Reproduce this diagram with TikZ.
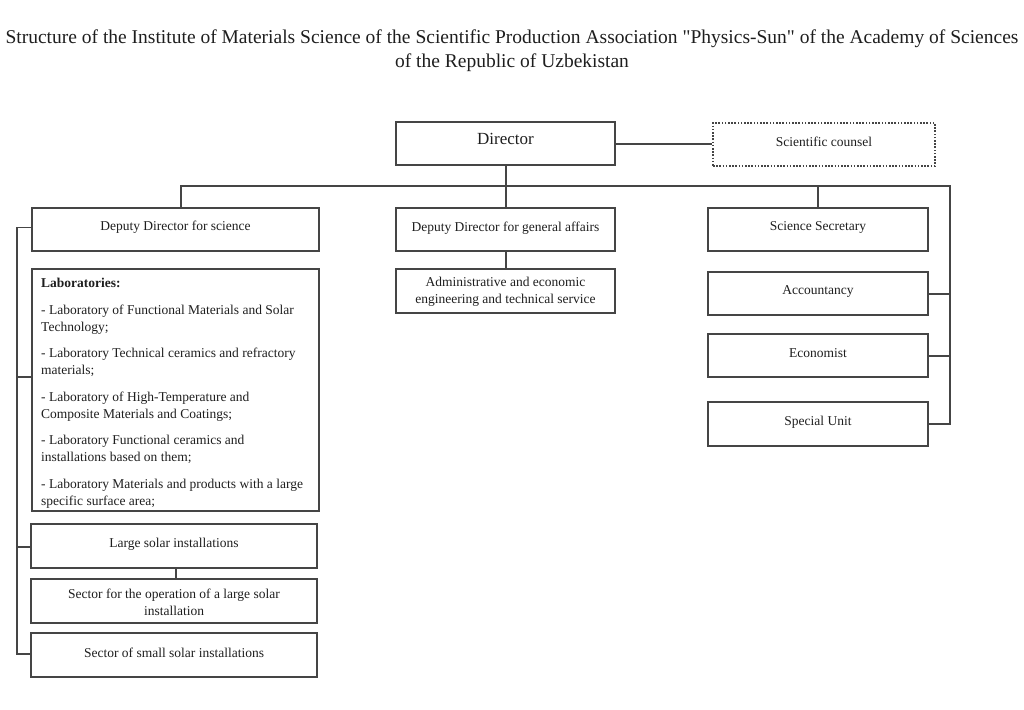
\documentclass[tikz,border=0pt]{standalone}
\usepackage{fontspec}
\setmainfont{Liberation Serif}
\definecolor{linec}{HTML}{454545}
\definecolor{textc}{HTML}{1E1E1E}
\begin{document}
\begin{tikzpicture}[x=1pt,y=-1pt]
\tikzset{
 box/.style={draw=linec, line width=1.3pt, rectangle, inner sep=0pt},
 dotbox/.style={box, line width=1.1pt, dash pattern=on 1.6pt off 1.6pt},
 conn/.style={draw=linec, line width=1.4pt},
 lbl/.style={font=\fontsize{13.5}{17}\selectfont, text=textc, align=center, inner sep=0pt},
}
\useasboundingbox (0,0) rectangle (1024,709);
% title
\node[font=\fontsize{19.5}{24}\selectfont, text=textc, align=center, inner sep=0pt] (title) at (512,51)
 {Structure of the Institute of Materials Science of the Scientific Production Association \textquotedbl Physics-Sun\textquotedbl{} of the Academy of Sciences\\of the Republic of Uzbekistan};
% boxes
\node[box, minimum width=219pt, minimum height=43pt] (dir) at (505.5,143.5) {};
\node[dotbox, minimum width=222pt, minimum height=43pt] (sci) at (824,144.5) {};
\node[box, minimum width=287pt, minimum height=43pt] (dds) at (175.5,229.5) {};
\node[box, minimum width=219pt, minimum height=43pt] (ddg) at (505.5,229.5) {};
\node[box, minimum width=220pt, minimum height=43pt] (ss) at (818,229.5) {};
\node[box, minimum width=219pt, minimum height=44pt] (adm) at (505.5,291) {};
\node[box, minimum width=220pt, minimum height=43pt] (acc) at (818,293.5) {};
\node[box, minimum width=220pt, minimum height=43pt] (eco) at (818,355.5) {};
\node[box, minimum width=220pt, minimum height=44pt] (spu) at (818,424) {};
\node[box, minimum width=287pt, minimum height=242pt] (lab) at (175.5,390) {};
\node[box, minimum width=286pt, minimum height=44pt] (lsi) at (174,546) {};
\node[box, minimum width=286pt, minimum height=44pt] (sop) at (174,601) {};
\node[box, minimum width=286pt, minimum height=44pt] (ssi) at (174,655) {};
% labels
\node[lbl, font=\fontsize{17}{20}\selectfont] (tdir) at (505.5,138.5) {Director};
\node[lbl] (tsci) at (824,141.5) {Scientific counsel};
\node[lbl] (tdds) at (175.5,227) {Deputy Director for science};
\node[lbl] (tddg) at (505.5,228) {Deputy Director for general affairs};
\node[lbl] (tss) at (818,227) {Science Secretary};
\node[lbl] (tadm) at (505.5,291.5) {Administrative and economic\\engineering and technical service};
\node[lbl] (tacc) at (818,291) {Accountancy};
\node[lbl] (teco) at (818,353) {Economist};
\node[lbl] (tspu) at (818,422) {Special Unit};
\node[lbl] (tlsi) at (174,544) {Large solar installations};
\node[lbl] (tsop) at (174,602.5) {Sector for the operation of a large solar\\installation};
\node[lbl] (tssi) at (174,653) {Sector of small solar installations};
\node[lbl, align=left, anchor=north west] (tlab) at (41,278) {%
\textbf{Laboratories:}\\[9.5pt]
- Laboratory of Functional Materials and Solar\\
Technology;\\[9.5pt]
- Laboratory Technical ceramics and refractory\\
materials;\\[9.5pt]
- Laboratory of High-Temperature and\\
Composite Materials and Coatings;\\[9.5pt]
- Laboratory Functional ceramics and\\
installations based on them;\\[9.5pt]
- Laboratory Materials and products with a large\\
specific surface area;};
% connectors
\coordinate (bL) at (181,186);
\coordinate (bR) at (950,186);
\coordinate (lx) at (17,0);
\draw[conn] ([yshift=-0.5pt]dir.east) -- ([yshift=-0.5pt]dir.east -| sci.west);
\draw[conn] ([xshift=0.5pt]dir.south) -- ([xshift=0.5pt]ddg.north);
\draw[conn] (bL |- dds.north) -- (bL) -- (bR) -- (bR |- spu.east) -- (spu.east);
\draw[conn] (ss.north) -- (ss.north |- bL);
\draw[conn] ([yshift=-0.5pt]acc.east) -- ([yshift=-0.5pt]acc.east -| bR);
\draw[conn] ([yshift=-0.5pt]eco.east) -- ([yshift=-0.5pt]eco.east -| bR);
\draw[conn] ([xshift=0.5pt]ddg.south) -- ([xshift=0.5pt]adm.north);
\draw[conn] ([xshift=2pt]lsi.south) -- ([xshift=2pt]sop.north);
\draw[conn] ([yshift=2pt]dds.west) -- ([yshift=2pt]dds.west -| lx) -- ([yshift=1pt]ssi.west -| lx) -- ([yshift=1pt]ssi.west);
\draw[conn] ([yshift=13pt]lab.west -| lx) -- ([yshift=13pt]lab.west);
\draw[conn] ([yshift=-1pt]lsi.west -| lx) -- ([yshift=-1pt]lsi.west);
\end{tikzpicture}
\end{document}
